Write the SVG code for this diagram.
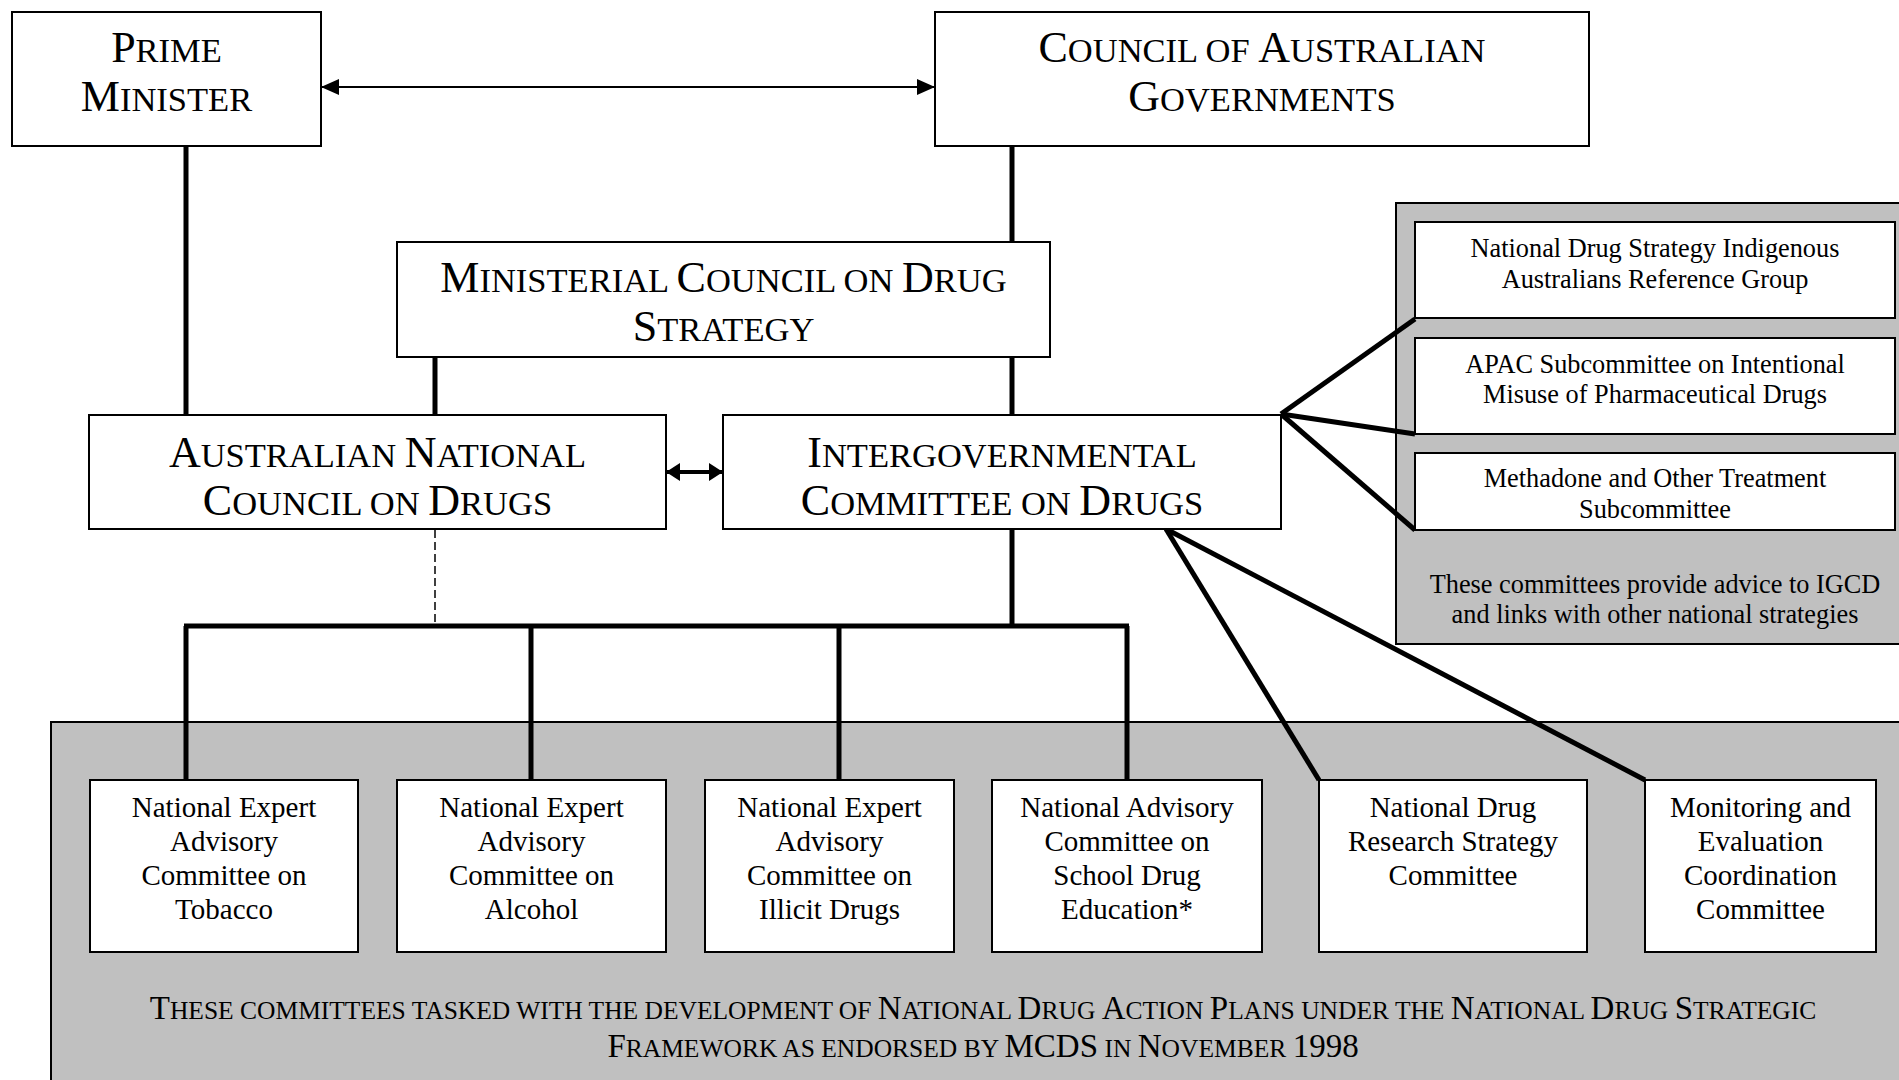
<svg xmlns="http://www.w3.org/2000/svg" width="1899" height="1080" viewBox="0 0 1899 1080">
<style>
text{font-family:"Liberation Serif","Times New Roman",serif;fill:#000;text-anchor:middle}
.big{font-size:44px}
.big .s{font-size:34.5px}
.foot{font-size:33px}
.foot .s{font-size:25.5px}
.child{font-size:29px}
.sub{font-size:26.3px}
.box{fill:#fff;stroke:#000;stroke-width:2}
.panel{fill:#c0c0c0;stroke:#000;stroke-width:2}
.conn{stroke:#000;stroke-width:5;fill:none}
.thin{stroke:#000;stroke-width:2;fill:none}
.dash{stroke:#000;stroke-width:1.5;fill:none;stroke-dasharray:8 4}
</style>
<defs>
<marker id="ah" markerUnits="userSpaceOnUse" markerWidth="18" markerHeight="16" refX="18" refY="8" orient="auto-start-reverse"><path d="M0,0 L18,8 L0,16 z" fill="#000"/></marker>
<marker id="ah2" markerUnits="userSpaceOnUse" markerWidth="14" markerHeight="18" refX="14" refY="9" orient="auto-start-reverse"><path d="M0,0 L14,9 L0,18 z" fill="#000"/></marker>
</defs>
<rect width="1899" height="1080" fill="#fff"/>

<g id="panel-bottom">
<rect class="panel" x="51" y="722" width="1860" height="370"/>
<text class="foot" x="983" y="1019"><tspan>T</tspan><tspan class="s">HESE COMMITTEES TASKED WITH THE DEVELOPMENT OF </tspan><tspan>N</tspan><tspan class="s">ATIONAL </tspan><tspan>D</tspan><tspan class="s">RUG </tspan><tspan>A</tspan><tspan class="s">CTION </tspan><tspan>P</tspan><tspan class="s">LANS UNDER THE </tspan><tspan>N</tspan><tspan class="s">ATIONAL </tspan><tspan>D</tspan><tspan class="s">RUG </tspan><tspan>S</tspan><tspan class="s">TRATEGIC</tspan></text>
<text class="foot" x="983" y="1057"><tspan>F</tspan><tspan class="s">RAMEWORK AS ENDORSED BY </tspan><tspan>MCDS</tspan><tspan class="s"> IN </tspan><tspan>N</tspan><tspan class="s">OVEMBER </tspan><tspan>1998</tspan></text>
</g>

<g id="panel-right">
<rect class="panel" x="1396" y="203" width="520" height="441"/>
<text class="sub" x="1655" y="593">These committees provide advice to IGCD</text>
<text class="sub" x="1655" y="623">and links with other national strategies</text>
</g>

<g id="connectors">
<line class="thin" x1="321" y1="87" x2="935" y2="87" marker-start="url(#ah)" marker-end="url(#ah)"/>
<line class="conn" x1="186" y1="146" x2="186" y2="415"/>
<line class="conn" x1="1012" y1="146" x2="1012" y2="242"/>
<line class="conn" x1="435" y1="357" x2="435" y2="415"/>
<line class="conn" x1="1012" y1="357" x2="1012" y2="415"/>
<line x1="666" y1="472" x2="723" y2="472" stroke="#000" stroke-width="4" marker-start="url(#ah2)" marker-end="url(#ah2)"/>
<line class="dash" x1="435" y1="530" x2="435" y2="626"/>
<line class="conn" x1="1012" y1="529" x2="1012" y2="626"/>
<line class="conn" x1="184" y1="626" x2="1129" y2="626"/>
<line class="conn" x1="186" y1="626" x2="186" y2="780"/>
<line class="conn" x1="531" y1="626" x2="531" y2="780"/>
<line class="conn" x1="839" y1="626" x2="839" y2="780"/>
<line class="conn" x1="1127" y1="626" x2="1127" y2="780"/>
<line class="conn" x1="1166" y1="529" x2="1319" y2="780"/>
<line class="conn" x1="1166" y1="529" x2="1645" y2="780"/>
<line class="conn" x1="1281" y1="414" x2="1415" y2="319"/>
<line class="conn" x1="1281" y1="414" x2="1415" y2="434"/>
<line class="conn" x1="1281" y1="414" x2="1415" y2="530"/>
</g>

<g id="pm">
<rect class="box" x="12" y="12" width="309" height="134"/>
<text class="big" x="166.5" y="62"><tspan>P</tspan><tspan class="s">RIME</tspan></text>
<text class="big" x="166.5" y="111"><tspan>M</tspan><tspan class="s">INISTER</tspan></text>
</g>
<g id="coag">
<rect class="box" x="935" y="12" width="654" height="134"/>
<text class="big" x="1262" y="62"><tspan>C</tspan><tspan class="s">OUNCIL OF </tspan><tspan>A</tspan><tspan class="s">USTRALIAN</tspan></text>
<text class="big" x="1262" y="111"><tspan>G</tspan><tspan class="s">OVERNMENTS</tspan></text>
</g>
<g id="mcds">
<rect class="box" x="397" y="242" width="653" height="115"/>
<text class="big" x="723.5" y="292"><tspan>M</tspan><tspan class="s">INISTERIAL </tspan><tspan>C</tspan><tspan class="s">OUNCIL ON </tspan><tspan>D</tspan><tspan class="s">RUG</tspan></text>
<text class="big" x="723.5" y="341"><tspan>S</tspan><tspan class="s">TRATEGY</tspan></text>
</g>
<g id="ancd">
<rect class="box" x="89" y="415" width="577" height="114"/>
<text class="big" x="377.5" y="467"><tspan>A</tspan><tspan class="s">USTRALIAN </tspan><tspan>N</tspan><tspan class="s">ATIONAL</tspan></text>
<text class="big" x="377.5" y="515"><tspan>C</tspan><tspan class="s">OUNCIL ON </tspan><tspan>D</tspan><tspan class="s">RUGS</tspan></text>
</g>
<g id="igcd">
<rect class="box" x="723" y="415" width="558" height="114"/>
<text class="big" x="1002" y="467"><tspan>I</tspan><tspan class="s">NTERGOVERNMENTAL</tspan></text>
<text class="big" x="1002" y="515"><tspan>C</tspan><tspan class="s">OMMITTEE ON </tspan><tspan>D</tspan><tspan class="s">RUGS</tspan></text>
</g>

<g id="sub-indigenous">
<rect class="box" x="1415" y="222" width="480" height="96"/>
<text class="sub" x="1655" y="257">National Drug Strategy Indigenous</text>
<text class="sub" x="1655" y="288">Australians Reference Group</text>
</g>
<g id="sub-apac">
<rect class="box" x="1415" y="338" width="480" height="96"/>
<text class="sub" x="1655" y="373">APAC Subcommittee on Intentional</text>
<text class="sub" x="1655" y="403">Misuse of Pharmaceutical Drugs</text>
</g>
<g id="sub-methadone">
<rect class="box" x="1415" y="453" width="480" height="77"/>
<text class="sub" x="1655" y="487">Methadone and Other Treatment</text>
<text class="sub" x="1655" y="518">Subcommittee</text>
</g>

<g id="tobacco">
<rect class="box" x="90" y="780" width="268" height="172"/>
<text class="child" x="224" y="817">National Expert</text>
<text class="child" x="224" y="851">Advisory</text>
<text class="child" x="224" y="885">Committee on</text>
<text class="child" x="224" y="919">Tobacco</text>
</g>
<g id="alcohol">
<rect class="box" x="397" y="780" width="269" height="172"/>
<text class="child" x="531.5" y="817">National Expert</text>
<text class="child" x="531.5" y="851">Advisory</text>
<text class="child" x="531.5" y="885">Committee on</text>
<text class="child" x="531.5" y="919">Alcohol</text>
</g>
<g id="illicit">
<rect class="box" x="705" y="780" width="249" height="172"/>
<text class="child" x="829.5" y="817">National Expert</text>
<text class="child" x="829.5" y="851">Advisory</text>
<text class="child" x="829.5" y="885">Committee on</text>
<text class="child" x="829.5" y="919">Illicit Drugs</text>
</g>
<g id="school">
<rect class="box" x="992" y="780" width="270" height="172"/>
<text class="child" x="1127" y="817">National Advisory</text>
<text class="child" x="1127" y="851">Committee on</text>
<text class="child" x="1127" y="885">School Drug</text>
<text class="child" x="1127" y="919">Education*</text>
</g>
<g id="research">
<rect class="box" x="1319" y="780" width="268" height="172"/>
<text class="child" x="1453" y="817">National Drug</text>
<text class="child" x="1453" y="851">Research Strategy</text>
<text class="child" x="1453" y="885">Committee</text>
</g>
<g id="monitoring">
<rect class="box" x="1645" y="780" width="231" height="172"/>
<text class="child" x="1760.5" y="817">Monitoring and</text>
<text class="child" x="1760.5" y="851">Evaluation</text>
<text class="child" x="1760.5" y="885">Coordination</text>
<text class="child" x="1760.5" y="919">Committee</text>
</g>
</svg>
